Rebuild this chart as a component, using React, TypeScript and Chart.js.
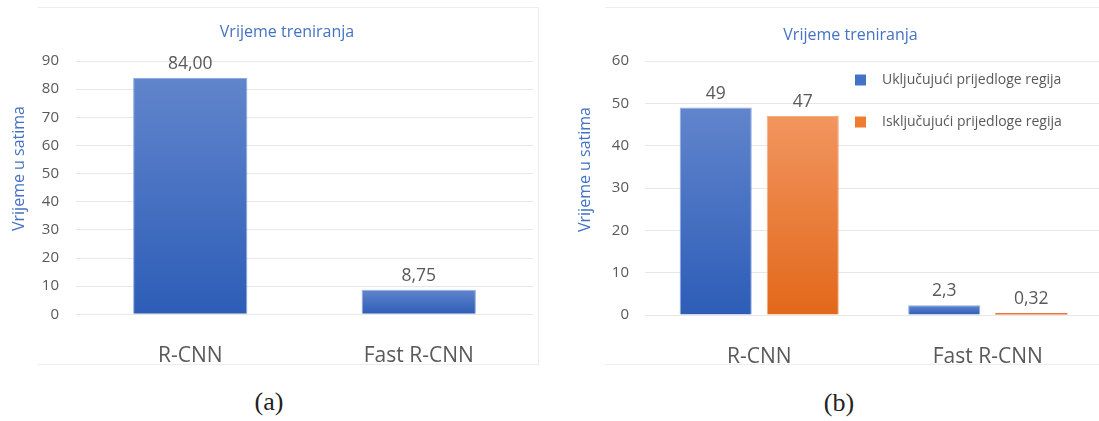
import React, { useEffect, useRef } from 'react';
import { Chart, registerables } from 'chart.js';

Chart.register(...registerables);

// ---- data ----
const categories = ['R-CNN', 'Fast R-CNN'];
const trainingHoursA = [84.0, 8.75];
const seriesNamesB = ['Uključujući prijedloge regija', 'Isključujući prijedloge regija'];
const withProposals = [49, 2.3];
const withoutProposals = [47, 0.32];
const chartTitle = 'Vrijeme treniranja';
const yAxisTitle = 'Vrijeme u satima';
const yMaxA = 90;
const yMaxB = 60;
const yStep = 10;

// ---- styles ----
const FONT = "'Open Sans', 'Noto Sans', sans-serif";
const GRAY = '#595959';
const BLUE_TXT = '#4472c4';
const GRID = '#e7e7e7';
const FRAME = '#ececec';
const BLUE = { top: '#6185cc', bottom: '#2d5db7', border: 'rgba(135,165,222,0.95)', solid: '#4472c4' };
const ORANGE = { top: '#f2955f', bottom: '#e2681a', border: 'rgba(246,168,120,0.95)', solid: '#ed7d31' };

function gradient(c: any, col: { top: string; bottom: string }) {
  const chart = c.chart;
  if (!chart.chartArea || c.type !== 'data') return col.bottom;
  const y = chart.scales.y;
  const y0 = y.getPixelForValue(c.raw as number);
  const y1 = y.getPixelForValue(0);
  if (!isFinite(y0) || !isFinite(y1) || y1 - y0 < 3) return '#ec7430';
  const g = chart.ctx.createLinearGradient(0, y0, 0, y1);
  g.addColorStop(0, col.top);
  g.addColorStop(1, col.bottom);
  return g;
}

function borderW(c: any) {
  if (c.type !== 'data') return 1;
  const chart = c.chart;
  if (!chart.chartArea) return 1;
  const y = chart.scales.y;
  return y.getPixelForValue(0) - y.getPixelForValue(c.raw as number) < 3 ? 0 : 1;
}

function textPlugin(opts: {
  titleX: number; titleY: number; yTitleX: number; yTitleY: number;
  fmt: (v: number) => string; legend?: { x: number; y0: number; dy: number; colors: string[] };
}) {
  return {
    id: 'texts',
    afterDatasetsDraw(chart: any) {
      const ctx = chart.ctx;
      ctx.save();
      // data labels
      ctx.font = `17.5px ${FONT}`;
      ctx.fillStyle = GRAY;
      ctx.textAlign = 'center';
      ctx.textBaseline = 'middle';
      chart.data.datasets.forEach((ds: any, di: number) => {
        const meta = chart.getDatasetMeta(di);
        meta.data.forEach((el: any, i: number) => {
          ctx.fillText(opts.fmt(ds.data[i]), el.x, el.y - 14);
        });
      });
      // title
      ctx.font = `16px ${FONT}`;
      ctx.fillStyle = BLUE_TXT;
      ctx.fillText(chartTitle, opts.titleX, opts.titleY);
      // y axis title
      ctx.save();
      ctx.translate(opts.yTitleX, opts.yTitleY);
      ctx.rotate(-Math.PI / 2);
      ctx.fillText(yAxisTitle, 0, 0);
      ctx.restore();
      // legend
      if (opts.legend) {
        const lg = opts.legend;
        ctx.font = `14px ${FONT}`;
        ctx.textAlign = 'left';
        chart.data.datasets.forEach((ds: any, di: number) => {
          const cy = lg.y0 + di * lg.dy;
          ctx.fillStyle = lg.colors[di];
          ctx.fillRect(lg.x, cy - 5.5, 11, 11);
          ctx.fillStyle = GRAY;
          ctx.fillText(ds.label, lg.x + 27, cy);
        });
      }
      ctx.restore();
    },
  };
}

function baseScales(yMax: number, yWidth: number, xHeight: number, tickPad: number) {
  return {
    x: {
      grid: { display: false },
      border: { display: false },
      ticks: { color: GRAY, font: { family: FONT, size: 21 }, padding: 21 },
      afterFit: (s: any) => { s.height = xHeight; },
    },
    y: {
      min: 0,
      max: yMax,
      grid: { color: GRID, lineWidth: 1, drawTicks: false },
      border: { display: false },
      ticks: { stepSize: yStep, color: GRAY, font: { family: FONT, size: 15 }, padding: tickPad },
      afterFit: (s: any) => { s.width = yWidth; },
    },
  };
}

function ChartA() {
  const ref = useRef<HTMLCanvasElement>(null);
  useEffect(() => {
    const chart = new Chart(ref.current!, {
      type: 'bar',
      data: {
        labels: categories,
        datasets: [{
          label: yAxisTitle,
          data: trainingHoursA,
          backgroundColor: (c: any) => gradient(c, BLUE),
          borderColor: BLUE.border,
          borderWidth: borderW,
          categoryPercentage: 1,
          barPercentage: 0.5,
        }],
      },
      options: {
        responsive: false,
        animation: false,
        layout: { padding: { top: 61, right: 7, left: 0, bottom: 0 } },
        plugins: { legend: { display: false }, title: { display: false }, tooltip: { enabled: false } },
        scales: baseScales(yMaxA, 76, 370 - 314.3, 17) as any,
      },
      plugins: [textPlugin({
        titleX: 287, titleY: 32, yTitleX: 19, yTitleY: 168.5,
        fmt: (v) => v.toFixed(2).replace('.', ','),
      })],
    });
    return () => chart.destroy();
  }, []);
  return <canvas ref={ref} width={540} height={370} style={{ position: 'absolute', left: 0, top: 0, width: 540, height: 370 }} />;
}

function ChartB() {
  const ref = useRef<HTMLCanvasElement>(null);
  useEffect(() => {
    const chart = new Chart(ref.current!, {
      type: 'bar',
      data: {
        labels: categories,
        datasets: [
          {
            label: seriesNamesB[0],
            data: withProposals,
            backgroundColor: (c: any) => gradient(c, BLUE),
            borderColor: BLUE.border,
            borderWidth: borderW,
            categoryPercentage: 0.762,
            barPercentage: 0.828,
          },
          {
            label: seriesNamesB[1],
            data: withoutProposals,
            backgroundColor: (c: any) => gradient(c, ORANGE),
            borderColor: ORANGE.border,
            borderWidth: borderW,
            minBarLength: 2,
            categoryPercentage: 0.762,
            barPercentage: 0.828,
          },
        ],
      },
      options: {
        responsive: false,
        animation: false,
        layout: { padding: { top: 61, right: 0, left: 0, bottom: 0 } },
        plugins: { legend: { display: false }, title: { display: false }, tooltip: { enabled: false } },
        scales: baseScales(yMaxB, 95, 370 - 315, 16) as any,
      },
      plugins: [textPlugin({
        titleX: 300.5, titleY: 35, yTitleX: 35, yTitleY: 169.5,
        fmt: (v) => String(v).replace('.', ','),
        legend: { x: 305, y0: 80, dy: 42, colors: [BLUE.solid, ORANGE.solid] },
      })],
    });
    return () => chart.destroy();
  }, []);
  return <canvas ref={ref} width={552} height={370} style={{ position: 'absolute', left: 550, top: 0, width: 552, height: 370 }} />;
}

const captionStyle: React.CSSProperties = {
  position: 'absolute',
  fontFamily: "'Liberation Serif', 'DejaVu Serif', serif",
  fontSize: 26,
  color: '#222',
  lineHeight: '30px',
  width: 80,
  textAlign: 'center',
};

export default function App() {
  return (
    <div style={{ position: 'fixed', left: 0, top: 0, width: 1099, height: 421, overflow: 'hidden', background: '#fff' }}>
      <div style={{ position: 'absolute', left: 38, top: 7, width: 501, height: 358, borderTop: `1px solid ${FRAME}`, borderRight: `1px solid ${FRAME}`, borderBottom: `1px solid ${FRAME}`, boxSizing: 'border-box' }} />
      <div style={{ position: 'absolute', left: 605, top: 7, width: 600, height: 358, borderTop: `1px solid ${FRAME}`, borderBottom: `1px solid ${FRAME}`, boxSizing: 'border-box' }} />
      <ChartA />
      <ChartB />
      <div style={{ ...captionStyle, left: 269 - 40, top: 403 - 16 }}>(a)</div>
      <div style={{ ...captionStyle, left: 839 - 40, top: 404 - 16 }}>(b)</div>
    </div>
  );
}
